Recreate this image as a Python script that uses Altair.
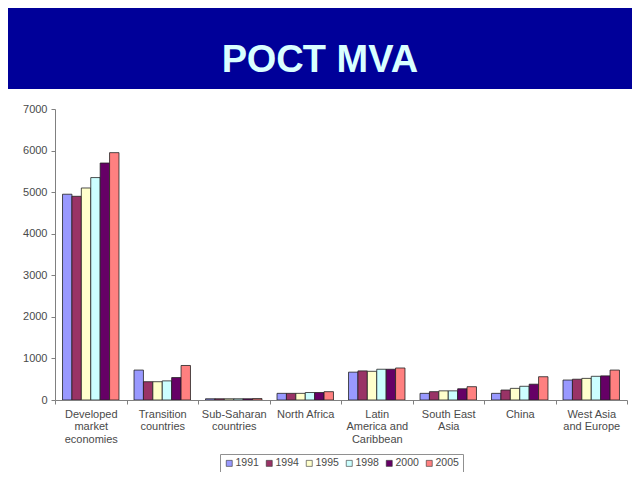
import altair as alt
import pandas as pd

title_text = "РОСТ MVA"
categories = [
    "Developed|market|economies",
    "Transition|countries",
    "Sub-Saharan|countries",
    "North Africa",
    "Latin|America and|Caribbean",
    "South East|Asia",
    "China",
    "West Asia|and Europe",
]
years = ["1991", "1994", "1995", "1998", "2000", "2005"]
v1991 = [4950, 720, 30, 160, 670, 160, 160, 480]
v1994 = [4900, 440, 30, 160, 700, 200, 240, 500]
v1995 = [5100, 440, 30, 160, 690, 220, 280, 520]
v1998 = [5350, 460, 30, 180, 740, 220, 330, 570]
v2000 = [5700, 540, 30, 180, 740, 270, 380, 580]
v2005 = [5950, 830, 35, 200, 770, 320, 560, 720]
colors = ["#9999FF", "#993366", "#FFFFCC", "#CCFFFF", "#660066", "#FF8080"]
y_ticks = [0, 1000, 2000, 3000, 4000, 5000, 6000, 7000]

series = [v1991, v1994, v1995, v1998, v2000, v2005]
rows = []
for yr, vals in zip(years, series):
    for c, v in zip(categories, vals):
        rows.append({"region": c, "year": yr, "value": v})
df = pd.DataFrame(rows)

FONT = "Liberation Sans"

panel = alt.Chart(pd.DataFrame({"p": [1]})).mark_rect(color="white").encode(
    x=alt.value(-47), x2=alt.value(577), y=alt.value(-20), y2=alt.value(363)
)

title = alt.Chart(pd.DataFrame({"t": [title_text]})).mark_text(
    font=FONT, fontSize=38, fontWeight="bold", color="#D9FFFF",
    align="center", baseline="alphabetic"
).encode(x=alt.value(265), y=alt.value(-37), text="t:N")

bars = alt.Chart(df).mark_bar(stroke="#222222", strokeWidth=0.8).encode(
    x=alt.X(
        "region:N", sort=categories,
        scale=alt.Scale(paddingInner=0, paddingOuter=0),
        axis=alt.Axis(
            title=None, labelAngle=0, labelExpr="split(datum.label, '|')",
            tickBand="extent", labelOverlap=False, labelFont=FONT,
            labelFontSize=11, labelLineHeight=12.5, labelColor="#4a4a4a",
            labelBaseline="top", labelPadding=4, tickSize=4,
            domainColor="#808080", tickColor="#808080", zindex=1,
        ),
    ),
    xOffset=alt.XOffset("year:N", sort=years,
                        scale=alt.Scale(paddingInner=0, paddingOuter=0.8)),
    y=alt.Y(
        "value:Q",
        scale=alt.Scale(domain=[0, 7000], nice=False),
        axis=alt.Axis(
            title=None, values=y_ticks, grid=False, format="d", labelFont=FONT,
            labelFontSize=11, labelColor="#4a4a4a", tickSize=4,
            labelPadding=4, domainColor="#808080", tickColor="#808080",
            zindex=1,
        ),
    ),
    color=alt.Color(
        "year:N", sort=years,
        scale=alt.Scale(domain=years, range=colors),
        legend=alt.Legend(
            title=None, orient="none", legendX=165, legendY=345,
            direction="horizontal", columns=6, symbolType="square",
            symbolSize=36, symbolStrokeColor="#333333", symbolStrokeWidth=0.6,
            labelFont=FONT, labelFontSize=10.5, labelColor="#4a4a4a",
            strokeColor="#909090", fillColor="white", padding=4,
            columnPadding=5, labelOffset=1, zindex=2,
        ),
    ),
)

chart = alt.layer(panel, title, bars).properties(
    width=572, height=291,
    background="#000099",
    autosize=alt.AutoSizeParams(type="none"),
    padding={"left": 47, "top": 101, "right": 5, "bottom": 72},
).configure_view(stroke=None)

chart.save("out.html", embed_options={"renderer": "svg", "actions": False})
